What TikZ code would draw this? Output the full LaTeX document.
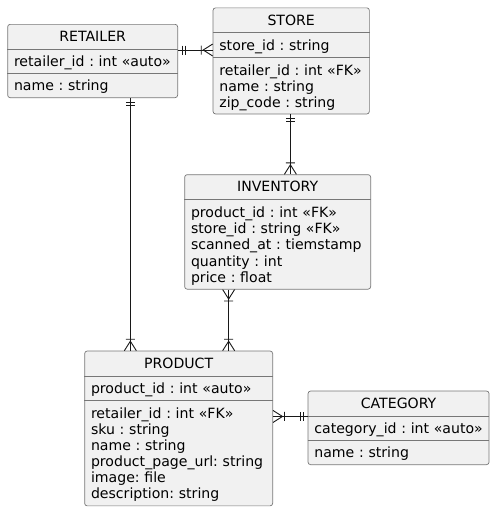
\documentclass[tikz,border=0pt]{standalone}
\usepackage{fontspec}
\setmainfont{DejaVu Sans}
\usepackage{xcolor}
\usetikzlibrary{calc}
\usetikzlibrary{positioning}
\definecolor{boxfill}{HTML}{F1F1F1}
\definecolor{boxline}{HTML}{777777}
\definecolor{relline}{HTML}{181818}
\setlength{\lineskiplimit}{-8pt}
\setlength{\lineskip}{0pt}
\frenchspacing
\tikzset{
	rel/.style={draw=relline, line width=0.9pt},
	exactlyone/.pic={
		\draw[rel] (4,-4.5) -- (4,4.5) (7.5,-4.5) -- (7.5,4.5);
	},
	oneormany/.pic={
		\draw[rel] (0,-6) -- (9.5,0) -- (0,6) (11.5,-4.5) -- (11.5,4.5);
	},
}

\begin{document}
\begin{tikzpicture}[x=1pt, y=-1pt, font=\fontsize{14.1}{16.1}\selectfont]
    \tikzstyle{entity}=[draw=boxline, fill=boxfill, line width=0.7pt, rounded corners=2.5pt, rectangle, anchor=north west, inner sep=0pt]
    \tikzstyle{title}=[anchor=base, inner sep=0pt]
    \tikzstyle{attrs}=[anchor=base west, inner sep=0pt, text width=180pt, align=left]
    \tikzstyle{sep}=[draw=boxline, line width=0.7pt]

	\useasboundingbox (0,0) rectangle (494,512);

	%% Retailer
	\node[entity, minimum width=170pt, minimum height=73.3pt] (retailer) at (7.3,24) {};
	\node[title] (retailer-title) at ([yshift=-17.5pt]retailer.north) {RETAILER};
	\draw[sep] ([yshift=-25.3pt]retailer.north west) -- ([yshift=-25.3pt]retailer.north east);
	\draw[sep] ([yshift=-49.3pt]retailer.north west) -- ([yshift=-49.3pt]retailer.north east);
	\node[attrs] (retailer-key) at (13.8,66.8) {retailer\_id : int «auto»};
	\node[attrs] (retailer-cols) at (13.8,90.8) {name : string};

	%% Store
	\node[entity, minimum width=156.3pt, minimum height=106.1pt] (store) at (212.7,7.5) {};
	\node[title] (store-title) at ([yshift=-17.5pt]store.north) {STORE};
	\draw[sep] ([yshift=-25.3pt]store.north west) -- ([yshift=-25.3pt]store.north east);
	\draw[sep] ([yshift=-49.5pt]store.north west) -- ([yshift=-49.5pt]store.north east);
	\node[attrs] (store-key) at (219.2,50.5) {store\_id : string};
	\node[attrs] (store-cols) at (219.2,75.1) {retailer\_id : int «FK»\\name : string\\zip\_code : string};

	%% Inventory
	\node[entity, minimum width=186pt, minimum height=114.5pt] (inventory) at (184.3,174.3) {};
	\node[title] (inventory-title) at ([yshift=-17.5pt]inventory.north) {INVENTORY};
	\draw[sep] ([yshift=-25.3pt]inventory.north west) -- ([yshift=-25.3pt]inventory.north east);
	\node[attrs] (inventory-cols) at (190.8,217.7) {product\_id : int «FK»\\store\_id : string «FK»\\scanned\_at : tiemstamp\\quantity : int\\price : float};

	%% Product
	\node[entity, minimum width=188pt, minimum height=154.8pt] (product) at (84.3,350.7) {};
	\node[title] (product-title) at ([yshift=-17.5pt]product.north) {PRODUCT};
	\draw[sep] ([yshift=-25.3pt]product.north west) -- ([yshift=-25.3pt]product.north east);
	\draw[sep] ([yshift=-49.5pt]product.north west) -- ([yshift=-49.5pt]product.north east);
	\node[attrs] (product-key) at (90.8,393.5) {product\_id : int «auto»};
	\node[attrs] (product-cols) at (90.8,418.1) {retailer\_id : int «FK»\\sku : string\\name : string\\product\_page\_url: string\\image: file\\description: string};

	%% Category
	\node[entity, minimum width=181pt, minimum height=73.6pt] (category) at (307.7,390.7) {};
	\node[title] (category-title) at ([yshift=-17.5pt]category.north) {CATEGORY};
	\draw[sep] ([yshift=-25.3pt]category.north west) -- ([yshift=-25.3pt]category.north east);
	\draw[sep] ([yshift=-49.3pt]category.north west) -- ([yshift=-49.3pt]category.north east);
	\node[attrs] (category-key) at (314.2,433.5) {category\_id : int «auto»};
	\node[attrs] (category-cols) at (314.2,457.5) {name : string};

	%% Relations
	\draw[rel] ([yshift=11pt]retailer.east) -- ([yshift=11pt]retailer.east -| store.west);
	\pic at ([yshift=11pt]retailer.east) {exactlyone};
	\pic[rotate=180] at ([yshift=11pt]retailer.east -| store.west) {oneormany};

	\draw[rel] ([xshift=37.7pt]retailer.south) -- ([xshift=37.7pt]retailer.south |- product.north);
	\pic[rotate=-90] at ([xshift=37.7pt]retailer.south) {exactlyone};
	\pic[rotate=90] at ([xshift=37.7pt]retailer.south |- product.north) {oneormany};

	\draw[rel] ([xshift=-0.8pt]store.south) -- ([xshift=-0.8pt]store.south |- inventory.north);
	\pic[rotate=-90] at ([xshift=-0.8pt]store.south) {exactlyone};
	\pic[rotate=90] at ([xshift=-0.8pt]store.south |- inventory.north) {oneormany};

	\draw[rel] ([xshift=-49pt]inventory.south) -- ([xshift=-49pt]inventory.south |- product.north);
	\pic[rotate=-90] at ([xshift=-49pt]inventory.south) {oneormany};
	\pic[rotate=90] at ([xshift=-49pt]inventory.south |- product.north) {oneormany};

	\draw[rel] ([yshift=11.4pt]category.west) -- ([yshift=11.4pt]category.west -| product.east);
	\pic[rotate=180] at ([yshift=11.4pt]category.west) {exactlyone};
	\pic at ([yshift=11.4pt]category.west -| product.east) {oneormany};
\end{tikzpicture}
\end{document}
